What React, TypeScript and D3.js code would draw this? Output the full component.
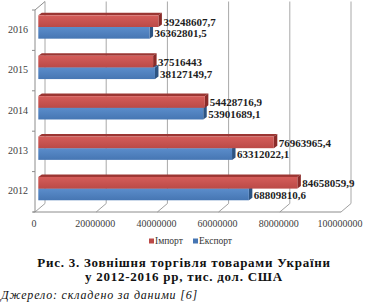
import React from "react";
import * as d3 from "d3";

const years = ["2016", "2015", "2014", "2013", "2012"];
const series = ["Імпорт", "Експорт"];
const importValues = [39248607.7, 37516443, 54428716.9, 76963965.4, 84658059.9];
const exportValues = [36362801.5, 38127149.7, 53901689.1, 63312022.1, 68809810.6];
const importLabels = ["39248607,7", "37516443", "54428716,9", "76963965,4", "84658059,9"];
const exportLabels = ["36362801,5", "38127149,7", "53901689,1", "63312022,1", "68809810,6"];
const xTicks = [0, 20000000, 40000000, 60000000, 80000000, 100000000];
const titleLines = ["Рис. 3. Зовнішня торгівля товарами України", "у 2012-2016 рр, тис. дол. США"];
const sourceText = "Джерело: складено за даними [6]";

const W = 365, H = 308;
const front = { left: 35, right: 341, top: 10, bottom: 212 };
const depth = { dx: 10, dy: -8.5 };
const barOff = { dx: 3.3, dy: -3.2 };
const barDepth = { dx: 3.5, dy: -2.5 };

const colors: Record<string, { front: [string, string]; top: string; side: string }> = {
  "Імпорт": { front: ["#d55d5a", "#bb4a47"], top: "#9b3633", side: "#8a2b29" },
  "Експорт": { front: ["#5b8dcb", "#4676b3"], top: "#3a67a0", side: "#2d5483" },
};

export default function App() {
  const x = d3.scaleLinear().domain([0, 100000000]).range([front.left, front.right]);
  const y = d3.scaleBand<string>().domain(years).range([front.top, front.bottom]).padding(0);
  const yIn = d3.scaleBand<string>().domain(series).range([0, y.bandwidth()]).paddingInner(0).paddingOuter(0.73);
  const font = "'Liberation Serif', 'Times New Roman', serif";

  const bars: { s: string; i: number; v: number; label: string }[] = [];
  years.forEach((_, i) => {
    bars.push({ s: "Експорт", i, v: exportValues[i], label: exportLabels[i] });
    bars.push({ s: "Імпорт", i, v: importValues[i], label: importLabels[i] });
  });

  const boundaries = years.map((yr) => y(yr)!).concat([front.bottom]);

  return (
    <svg width={W} height={H} style={{ position: "absolute", left: 0, top: 0, background: "#fff" }}>
      <defs>
        {series.map((s, k) => (
          <linearGradient key={s} id={`g${k}`} x1="0" y1="0" x2="0" y2="1">
            <stop offset="0" stopColor={colors[s].front[0]} />
            <stop offset="1" stopColor={colors[s].front[1]} />
          </linearGradient>
        ))}
      </defs>
      {xTicks.map((t) => (
        <line key={"g" + t} x1={x(t) + depth.dx} x2={x(t) + depth.dx} y1={front.top + depth.dy} y2={front.bottom + depth.dy} stroke="#a8a8a8" strokeWidth={1} />
      ))}
      {xTicks.map((t) => (
        <line key={"f" + t} x1={x(t)} x2={x(t) + depth.dx} y1={front.bottom} y2={front.bottom + depth.dy} stroke="#a0a0a0" strokeWidth={1} />
      ))}
      <line x1={front.left - 2} x2={front.right} y1={front.bottom} y2={front.bottom} stroke="#8c8c8c" strokeWidth={1} />
      <line x1={front.left} x2={front.left} y1={front.top} y2={front.bottom} stroke="#8c8c8c" strokeWidth={1} />
      <line x1={front.left} x2={front.left + depth.dx} y1={front.top} y2={front.top + depth.dy} stroke="#8c8c8c" strokeWidth={1} />
      {boundaries.map((b, k) => (
        <line key={"t" + k} x1={front.left - 3} x2={front.left} y1={b} y2={b} stroke="#8c8c8c" strokeWidth={1} />
      ))}
      {bars.map((b) => {
        const x0 = x(0) + barOff.dx;
        const x1 = x(b.v) + barOff.dx;
        const y0 = y(years[b.i])! + yIn(b.s)! + barOff.dy;
        const h = yIn.bandwidth();
        const c = colors[b.s];
        const k = series.indexOf(b.s);
        const top = [[x0, y0], [x1, y0], [x1 + barDepth.dx, y0 + barDepth.dy], [x0 + barDepth.dx, y0 + barDepth.dy]];
        const side = [[x1, y0], [x1 + barDepth.dx, y0 + barDepth.dy], [x1 + barDepth.dx, y0 + h + barDepth.dy], [x1, y0 + h]];
        return (
          <g key={b.s + b.i}>
            <polygon points={top.map((p) => p.join(",")).join(" ")} fill={c.top} />
            <polygon points={side.map((p) => p.join(",")).join(" ")} fill={c.side} />
            <rect x={x0} y={y0} width={x1 - x0} height={h} fill={`url(#g${k})`} />
          </g>
        );
      })}
      {bars.map((b) => {
        const y0 = y(years[b.i])! + yIn(b.s)! + barOff.dy;
        return (
          <text key={"l" + b.s + b.i} x={x(b.v) + barOff.dx + barDepth.dx + 1.5} y={y0 + yIn.bandwidth() / 2 + 0.5} dy="0.35em" fontFamily={font} fontWeight="bold" fontSize={11} fill="#1e1e1e">
            {b.label}
          </text>
        );
      })}
      {years.map((yr) => (
        <text key={"c" + yr} x={28} y={y(yr)! + y.bandwidth() / 2 - 1} dy="0.35em" textAnchor="end" fontFamily={font} fontSize={10} fill="#404040">
          {yr}
        </text>
      ))}
      {xTicks.map((t) => (
        <text key={"x" + t} x={x(t) - 1} y={227} textAnchor="middle" fontFamily={font} fontSize={10} fill="#404040">
          {String(t)}
        </text>
      ))}
      {series.map((s, k) => {
        const lx = [149, 193][k];
        return (
          <g key={"lg" + s}>
            <rect x={lx} y={238.5} width={5} height={5} fill={colors[s].front[1]} />
            <text x={lx + 6} y={244} fontFamily={font} fontSize={9.5} fill="#333">{s}</text>
          </g>
        );
      })}
      {titleLines.map((t, k) => (
        <text key={"tt" + k} x={184} y={267 + k * 14} textAnchor="middle" fontFamily={font} fontWeight="bold" fontSize={13} letterSpacing={0.75} fill="#111">
          {t}
        </text>
      ))}
      <text x={1} y={299} fontFamily={font} fontStyle="italic" fontSize={12} letterSpacing={0.8} fill="#111">
        {sourceText}
      </text>
    </svg>
  );
}
